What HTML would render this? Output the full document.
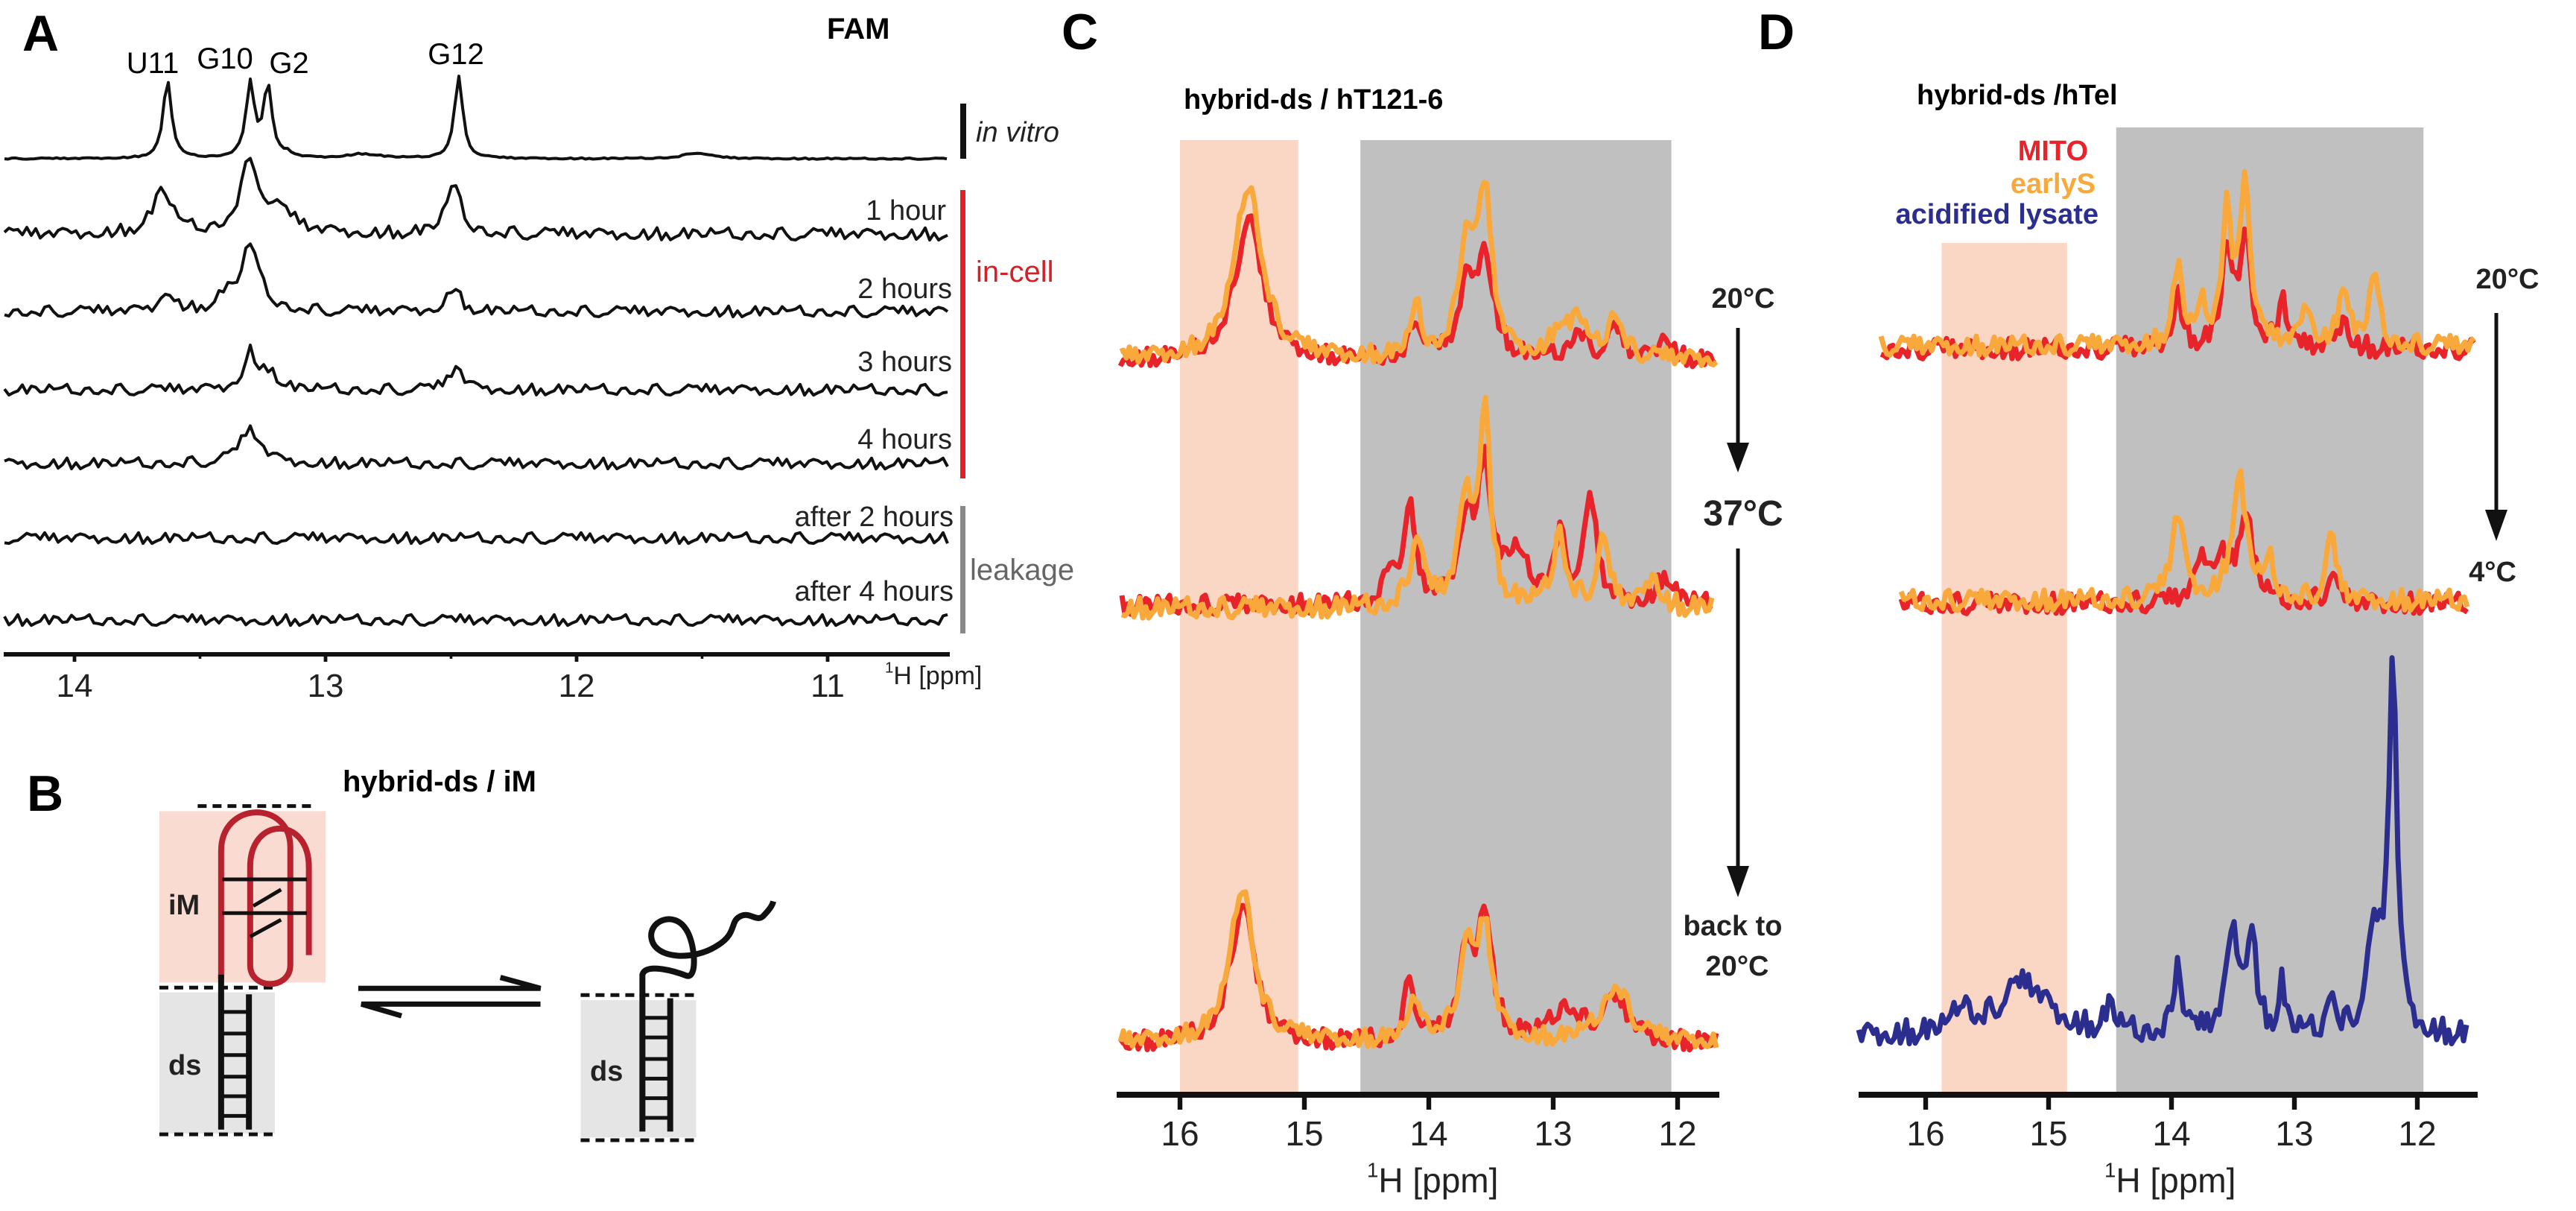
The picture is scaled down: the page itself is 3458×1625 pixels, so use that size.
<!DOCTYPE html>
<html><head><meta charset="utf-8">
<style>
html,body{margin:0;padding:0;background:#fff;}
svg{display:block;}
text{font-family:"Liberation Sans",sans-serif;}
</style></head>
<body>
<svg id="fig" width="3458" height="1625" viewBox="0 0 3458 1625" xmlns="http://www.w3.org/2000/svg">
<rect x="0" y="0" width="3458" height="1625" fill="#fff"/>

<!-- Panel A -->
<g>
<text x="30" y="68" font-size="68" font-weight="bold">A</text>
<text x="1110" y="52" font-size="40" font-weight="bold">FAM</text>
<g font-size="40" text-anchor="middle">
<text x="205" y="98">U11</text>
<text x="302" y="92">G10</text>
<text x="388" y="98">G2</text>
<text x="612" y="86">G12</text>
</g>
<rect x="1289" y="139" width="8" height="74" fill="#111"/>
<text x="1310" y="190" font-size="38" font-style="italic" fill="#222">in vitro</text>
<rect x="1289" y="255" width="7" height="387" fill="#e31e24"/>
<text x="1310" y="378" font-size="40" fill="#d42027">in-cell</text>
<rect x="1289" y="679" width="7" height="171" fill="#888"/>
<text x="1302" y="778" font-size="40" fill="#666">leakage</text>
<g font-size="38" text-anchor="end" fill="#222">
<text x="1270" y="295">1 hour</text>
<text x="1278" y="400">2 hours</text>
<text x="1278" y="498">3 hours</text>
<text x="1278" y="602">4 hours</text>
<text x="1280" y="706">after 2 hours</text>
<text x="1280" y="806">after 4 hours</text>
</g>
<g id="a-traces"></g>
<g id="a-axis"></g>
</g>

<!-- Panel B -->
<g>
<text x="36" y="1088" font-size="68" font-weight="bold">B</text>
<text x="460" y="1062" font-size="40" font-weight="bold">hybrid-ds / iM</text>
<g transform="translate(0,800) scale(0.8292,0.5263)">
<rect x="258" y="548" width="269" height="437" fill="#fadbd2"/>
<rect x="258" y="1010" width="187" height="360" fill="#e5e5e5"/>
<rect x="940" y="1030" width="187" height="350" fill="#e5e5e5"/>
<g stroke="#111" stroke-width="5" stroke-dasharray="12 8" fill="none">
<line x1="320" y1="535" x2="508" y2="535" vector-effect="non-scaling-stroke"/>
<line x1="258" y1="998" x2="448" y2="998" vector-effect="non-scaling-stroke"/>
<line x1="258" y1="1372" x2="448" y2="1372" vector-effect="non-scaling-stroke"/>
<line x1="940" y1="1017" x2="1132" y2="1017" vector-effect="non-scaling-stroke"/>
<line x1="940" y1="1387" x2="1132" y2="1387" vector-effect="non-scaling-stroke"/>
</g>
<path d="M358,975 L358,650 C358,520 470,520 470,640 L470,940 C470,1005 405,1005 405,940 L405,690 C405,560 500,560 500,690 L500,915" fill="none" stroke="#b8212e" stroke-width="8" vector-effect="non-scaling-stroke"/>
<g stroke="#111" stroke-width="5" fill="none">
<line x1="360" y1="722" x2="497" y2="722" vector-effect="non-scaling-stroke"/>
<line x1="360" y1="808" x2="497" y2="808" vector-effect="non-scaling-stroke"/>
<line x1="410" y1="790" x2="455" y2="748" vector-effect="non-scaling-stroke"/>
<line x1="405" y1="868" x2="455" y2="825" vector-effect="non-scaling-stroke"/>
<line x1="358" y1="965" x2="358" y2="1360" stroke-width="8" vector-effect="non-scaling-stroke"/>
<line x1="403" y1="1015" x2="403" y2="1360" stroke-width="8" vector-effect="non-scaling-stroke"/>
<line x1="358" y1="1060" x2="403" y2="1060" vector-effect="non-scaling-stroke"/>
<line x1="358" y1="1115" x2="403" y2="1115" vector-effect="non-scaling-stroke"/>
<line x1="358" y1="1170" x2="403" y2="1170" vector-effect="non-scaling-stroke"/>
<line x1="358" y1="1225" x2="403" y2="1225" vector-effect="non-scaling-stroke"/>
<line x1="358" y1="1275" x2="403" y2="1275" vector-effect="non-scaling-stroke"/>
<line x1="358" y1="1325" x2="403" y2="1325" vector-effect="non-scaling-stroke"/>
<line x1="1040" y1="1015" x2="1040" y2="1365" stroke-width="8" vector-effect="non-scaling-stroke"/>
<line x1="1085" y1="1025" x2="1085" y2="1365" stroke-width="8" vector-effect="non-scaling-stroke"/>
<line x1="1040" y1="1075" x2="1085" y2="1075" vector-effect="non-scaling-stroke"/>
<line x1="1040" y1="1125" x2="1085" y2="1125" vector-effect="non-scaling-stroke"/>
<line x1="1040" y1="1180" x2="1085" y2="1180" vector-effect="non-scaling-stroke"/>
<line x1="1040" y1="1230" x2="1085" y2="1230" vector-effect="non-scaling-stroke"/>
<line x1="1040" y1="1280" x2="1085" y2="1280" vector-effect="non-scaling-stroke"/>
<line x1="1040" y1="1330" x2="1085" y2="1330" vector-effect="non-scaling-stroke"/>
</g>
<path d="M1040,1020 L1040,965 C1045,935 1090,955 1112,968 C1130,975 1125,880 1110,848 C1090,800 1048,830 1055,875 C1062,925 1122,930 1160,892 C1195,860 1180,828 1200,815 C1215,805 1225,832 1236,815 C1245,800 1250,790 1252,778" fill="none" stroke="#111" stroke-width="8" vector-effect="non-scaling-stroke"/>
<g stroke="#111" stroke-width="7" fill="none">
<path d="M580,1000 L875,1000 L810,972" vector-effect="non-scaling-stroke"/>
<path d="M875,1040 L585,1040 L650,1070" vector-effect="non-scaling-stroke"/>
</g>
</g>
<text x="226" y="1227" font-size="38" font-weight="bold" fill="#222">iM</text>
<text x="226" y="1442" font-size="38" font-weight="bold" fill="#222">ds</text>
<text x="792" y="1450" font-size="38" font-weight="bold" fill="#222">ds</text>
</g>

<!-- Panel C -->
<g>
<text x="1425" y="66" font-size="68" font-weight="bold">C</text>
<g id="c-bands"></g>
<text x="1589" y="146" font-size="38" font-weight="bold">hybrid-ds / hT121-6</text>
<g id="c-traces"></g>
<g id="c-axis"></g>
<g font-weight="bold" fill="#222" text-anchor="middle">
<text x="2340" y="413" font-size="38">20°C</text>
<text x="2340" y="705" font-size="48">37°C</text>
<text x="2326" y="1255" font-size="38">back to</text>
<text x="2332" y="1309" font-size="38">20°C</text>
</g>
<g stroke="#111" stroke-width="5">
<line x1="2333" y1="440" x2="2333" y2="600"/>
<line x1="2333" y1="736" x2="2333" y2="1170"/>
</g>
<polygon points="2318,594 2348,594 2333,634" fill="#111"/>
<polygon points="2318,1162 2348,1162 2333,1204" fill="#111"/>
</g>

<!-- Panel D -->
<g>
<text x="2360" y="66" font-size="68" font-weight="bold">D</text>
<g id="d-bands"></g>
<text x="2573" y="140" font-size="38" font-weight="bold">hybrid-ds /hTel</text>
<g font-size="38" font-weight="bold" text-anchor="end">
<text x="2803" y="215" fill="#e8232a">MITO</text>
<text x="2813" y="259" fill="#f9a93b">earlyS</text>
<text x="2817" y="300" fill="#2b2e8f">acidified lysate</text>
</g>
<g id="d-traces"></g>
<g id="d-axis"></g>
<g font-weight="bold" fill="#222" text-anchor="middle" font-size="38">
<text x="3366" y="387">20°C</text>
<text x="3346" y="780">4°C</text>
</g>
<line x1="3351" y1="420" x2="3351" y2="690" stroke="#111" stroke-width="5"/>
<polygon points="3336,684 3366,684 3351,726" fill="#111"/>
</g>
</svg>

<script>
// ---------- data ----------
// peaks: [ppm, height(px), half-width(ppm)]
const aPpmTicks = [14, 13, 12, 11];
const aInVitroPeaks = [[13.63,105,0.02],[13.30,100,0.02],[13.23,95,0.02],[12.47,110,0.02],[13.15,5,0.02],[12.85,6,0.08],[11.52,8,0.06]];
const a1hPeaks = [[13.65,58,0.045],[13.30,95,0.045],[13.18,25,0.07],[12.49,65,0.035]];
const a2hPeaks = [[13.63,28,0.03],[13.30,88,0.045],[13.40,18,0.03],[12.49,34,0.03]];
const a3hPeaks = [[13.30,52,0.03],[13.22,25,0.03],[12.48,32,0.03]];
const a4hPeaks = [[13.30,45,0.05]];
const aAfter2hPeaks = [];
const aAfter4hPeaks = [];
// Panel C
const cPpmTicks = [16, 15, 14, 13, 12];
const cTopRed = [[15.45,190,0.13],[13.55,140,0.08],[13.70,85,0.07],[14.10,55,0.05],[12.10,35,0.06],[12.80,40,0.07],[12.50,40,0.07]];
const cTopOrange = [[15.45,235,0.13],[13.55,210,0.07],[13.70,150,0.07],[14.10,65,0.05],[12.80,50,0.07],[12.50,60,0.07],[12.95,40,0.07]];
const cMidRed = [[13.55,180,0.06],[13.70,110,0.07],[14.15,125,0.05],[14.30,55,0.05],[12.70,135,0.06],[12.95,85,0.06],[13.30,60,0.12],[12.10,40,0.07]];
const cMidOrange = [[13.55,265,0.05],[13.70,140,0.07],[14.10,95,0.06],[12.95,100,0.06],[12.60,85,0.06],[12.20,45,0.06]];
const cBotRed = [[15.50,190,0.11],[13.55,170,0.07],[13.70,105,0.07],[14.15,85,0.05],[12.90,45,0.13],[12.50,55,0.13]];
const cBotOrange = [[15.50,210,0.11],[13.55,145,0.07],[13.70,115,0.07],[14.10,55,0.06],[12.50,75,0.13]];
// Panel D
const dPpmTicks = [16, 15, 14, 13, 12];
const dTopRed = [[13.40,160,0.05],[13.55,125,0.05],[13.95,75,0.045],[13.10,85,0.03],[12.60,45,0.045]];
const dTopOrange = [[13.40,230,0.045],[13.55,185,0.045],[13.95,105,0.045],[12.60,85,0.045],[12.35,95,0.045],[12.90,55,0.045],[13.75,45,0.045]];
const dMidRed = [[13.40,120,0.07],[13.60,55,0.07],[13.75,55,0.06],[12.70,40,0.045]];
const dMidOrange = [[13.45,165,0.07],[13.95,115,0.06],[12.70,85,0.045],[13.20,45,0.045]];
const dBlue = [[12.20,495,0.04],[12.35,125,0.07],[13.95,115,0.03],[13.50,135,0.06],[13.35,135,0.045],[13.10,65,0.03],[12.70,65,0.03],[15.20,70,0.25],[15.70,40,0.06],[14.50,35,0.045]];
// hand-read noise pattern (normalized)
const noisePattern = [0.3,-0.6,0.8,-0.2,0.5,-0.9,0.1,0.7,-0.4,0.2,-0.8,0.6,0.9,-0.3,-0.7,0.4,0.0,-0.5,0.8,-0.1,0.5,-0.9,0.3,0.6,-0.6,-0.2,0.9,-0.4,0.1,-0.8,0.7,0.2,-0.3,0.5,-0.7,0.8,-0.1,0.4,-0.9,0.6,0.2,-0.5,0.9,-0.2,-0.6,0.3,0.7,-0.8,0.0,0.5,-0.4,0.8,-0.7,0.1,0.6,-0.3,0.4,-0.9,0.2,0.7];

// ---------- helpers ----------
const NS = "http://www.w3.org/2000/svg";
function mk(tag, attrs, parent){const e=document.createElementNS(NS,tag);for(const k in attrs)e.setAttribute(k,attrs[k]);parent.appendChild(e);return e;}
function axis(ppm0, x0, pxPerPpm){return p => x0 + (ppm0 - p)*pxPerPpm;}
function spectrum(peaks, p){let s=0;for(const pk of peaks){const d=(p-pk[0])/pk[2];s+=pk[1]/(1+d*d);}return s;}
function trace(parent, name, peaks, xf, invf, xStart, xEnd, base, noiseAmp, offset, color, sw, step){
  let d="";
  let i=0;
  step = step || 5;
  for(let x=xStart;x<=xEnd;x+=step,i++){
    const p=invf(x);
    const n=noiseAmp*noisePattern[(i*7+offset)%noisePattern.length];
    const y=base-spectrum(peaks,p)+n;
    d+=(i?"L":"M")+x.toFixed(1)+","+y.toFixed(1);
  }
  const el=mk("path",{d:d,fill:"none",stroke:color,"stroke-width":sw,"stroke-linejoin":"round"},parent);
  
  
}
function drawAxis(g, ticks, xf, x1, x2, y, sw, tickLen, labelY, fs, minor){
  const l=mk("line",{x1:x1,x2:x2,y1:y,y2:y,stroke:"#111","stroke-width":sw},g);
  
  
  for(const t of ticks){
    const x=xf(t);
    const tk=mk("line",{x1:x,x2:x,y1:y,y2:y+tickLen,stroke:"#111","stroke-width":sw*0.8},g);
    
    
    const tx=mk("text",{x:x,y:labelY,"font-size":fs,"text-anchor":"middle",fill:"#222"},g);
    tx.textContent=String(t);
    
    
    if(minor){
      const mx=xf(t-0.5);
      if(mx<x2){const m=mk("line",{x1:mx,x2:mx,y1:y,y2:y+tickLen*0.6,stroke:"#111","stroke-width":sw*0.6},g);
      
      }
    }
  }
}
function axisTitle(g, x, y, fs){
  const t=mk("text",{x:x,y:y,"font-size":fs,fill:"#222"},g);
  
  
  const s=mk("tspan",{"font-size":fs*0.6,dy:-fs*0.45},t);s.textContent="1";
  const s2=mk("tspan",{dy:fs*0.45},t);s2.textContent="H [ppm]";
}
function band(g, name, xf, p1, p2, y1, y2, color){
  const a=xf(p1),b=xf(p2);
  const r=mk("rect",{x:Math.min(a,b),y:y1,width:Math.abs(b-a),height:y2-y1,fill:color},g);
  
  
}

// ---------- Panel A ----------
const aX = axis(14, 100, 337);
const aInv = x => 14 - (x-100)/337;
const aT = document.getElementById("a-traces");
trace(aT,"trace-in-vitro",aInVitroPeaks,aX,aInv,6,1272,213,1,0,"#111",4,5);
trace(aT,"trace-1-hour",a1hPeaks,aX,aInv,6,1272,314,9,3,"#111",4,6);
trace(aT,"trace-2-hours",a2hPeaks,aX,aInv,6,1272,418,8,11,"#111",4,6);
trace(aT,"trace-3-hours",a3hPeaks,aX,aInv,6,1272,523,8,19,"#111",4,6);
trace(aT,"trace-4-hours",a4hPeaks,aX,aInv,6,1272,622,8,27,"#111",4,6);
trace(aT,"trace-after-2-hours",aAfter2hPeaks,aX,aInv,6,1272,722,8,35,"#111",4,6);
trace(aT,"trace-after-4-hours",aAfter4hPeaks,aX,aInv,6,1272,832,8,44,"#111",4,6);
const aA=document.getElementById("a-axis");
drawAxis(aA,aPpmTicks,aX,5,1275,878,6,10,935,44,true);
axisTitle(aA,1188,918,34);

// ---------- Panel C ----------
const cX = axis(16, 1584, 167);
const cInv = x => 16 - (x-1584)/167;
const cB=document.getElementById("c-bands");
band(cB,"band-pink-c",cX,16.0,15.05,188,1466,"#fad6c4");
band(cB,"band-grey-c",cX,14.55,12.05,188,1466,"#c1c0c1");
const cT=document.getElementById("c-traces");
trace(cT,"c-top-mito",cTopRed,cX,cInv,1504,2305,484,13,2,"#e8232a",7,4);
trace(cT,"c-top-earlys",cTopOrange,cX,cInv,1504,2305,482,13,17,"#f9a93b",7,4);
trace(cT,"c-mid-mito",cMidRed,cX,cInv,1506,2300,812,14,5,"#e8232a",7,4);
trace(cT,"c-mid-earlys",cMidOrange,cX,cInv,1506,2300,816,15,23,"#f9a93b",7,4);
trace(cT,"c-bot-mito",cBotRed,cX,cInv,1504,2305,1400,14,9,"#e8232a",7,4);
trace(cT,"c-bot-earlys",cBotOrange,cX,cInv,1504,2305,1398,13,31,"#f9a93b",7,4);
const cA=document.getElementById("c-axis");
drawAxis(cA,cPpmTicks,cX,1499,2308,1469,8,20,1537,46,false);
axisTitle(cA,1835,1600,46);

// ---------- Panel D ----------
const dX = axis(16, 2585, 165);
const dInv = x => 16 - (x-2585)/165;
const dB=document.getElementById("d-bands");
band(dB,"band-pink-d",dX,15.87,14.85,326,1466,"#fad6c4");
band(dB,"band-grey-d",dX,14.45,11.95,171,1466,"#c1c0c1");
const dT=document.getElementById("d-traces");
trace(dT,"d-top-mito",dTopRed,dX,dInv,2525,3323,468,15,4,"#e8232a",7,4);
trace(dT,"d-top-earlys",dTopOrange,dX,dInv,2525,3323,464,14,21,"#f9a93b",7,4);
trace(dT,"d-mid-mito",dMidRed,dX,dInv,2552,3312,810,15,8,"#e8232a",7,4);
trace(dT,"d-mid-earlys",dMidOrange,dX,dInv,2552,3312,806,15,29,"#f9a93b",7,4);
trace(dT,"d-acidified-lysate",dBlue,dX,dInv,2495,3312,1390,18,13,"#2b2e8f",7,4);
const dA=document.getElementById("d-axis");
drawAxis(dA,dPpmTicks,dX,2495,3326,1469,8,20,1537,46,false);
axisTitle(dA,2825,1600,46);
</script>
</body></html>
